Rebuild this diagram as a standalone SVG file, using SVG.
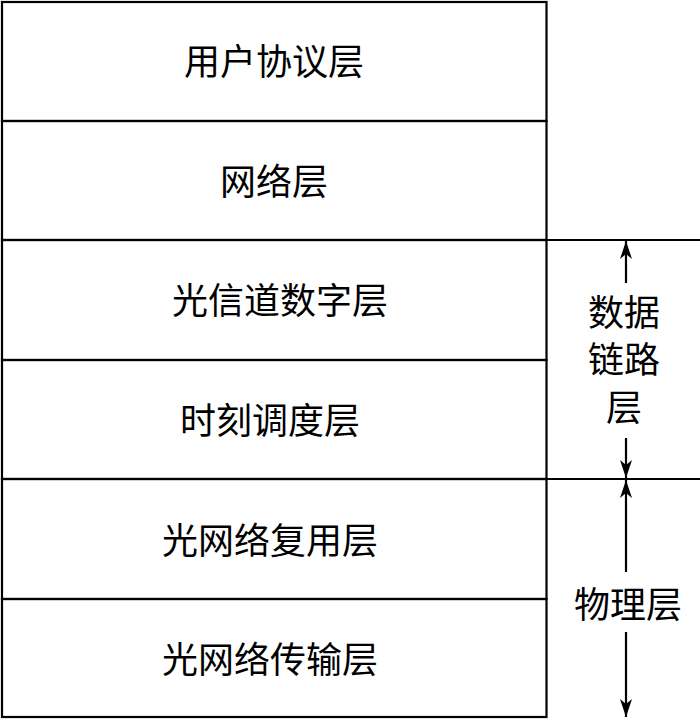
<svg xmlns="http://www.w3.org/2000/svg" width="700" height="720" viewBox="0 0 700 720">
<style>
.t{font-family:"Noto Sans CJK SC","Noto Sans CJK JP",sans-serif;font-size:36px;fill:#000;text-anchor:middle;dominant-baseline:central}
.ln{stroke:#000;stroke-width:2.2;fill:none}
</style>
<defs>
<marker id="ah" viewBox="0 0 18 12" refX="18" refY="6" markerWidth="18" markerHeight="12" markerUnits="userSpaceOnUse" orient="auto">
<path d="M0,0 L18,6 L0,12 L5,6 Z" fill="#000"/>
</marker>
</defs>
<rect width="700" height="720" fill="#fff"/>
<g id="layers">
<g id="n1"><rect class="ln" x="2" y="2" width="544.5" height="119"/><text class="t" x="274" y="59">用户协议层</text></g>
<g id="n2"><rect class="ln" x="2" y="121" width="544.5" height="119"/><text class="t" x="274" y="179">网络层</text></g>
<g id="n3"><rect class="ln" x="2" y="240" width="544.5" height="120"/><text class="t" x="280" y="298">光信道数字层</text></g>
<g id="n4"><rect class="ln" x="2" y="360" width="544.5" height="119"/><text class="t" x="270" y="418">时刻调度层</text></g>
<g id="n5"><rect class="ln" x="2" y="479" width="544.5" height="120"/><text class="t" x="270" y="538">光网络复用层</text></g>
<g id="n6"><rect class="ln" x="2" y="599" width="544.5" height="118"/><text class="t" x="270" y="657">光网络传输层</text></g>
</g>
<g id="connectors">
<line class="ln" x1="546" y1="240" x2="700" y2="240"/>
<line class="ln" x1="546" y1="479" x2="700" y2="479"/>
<line class="ln" x1="626" y1="283" x2="626" y2="241" marker-end="url(#ah)"/>
<line class="ln" x1="626" y1="438" x2="626" y2="478" marker-end="url(#ah)"/>
<line class="ln" x1="626" y1="572" x2="626" y2="480" marker-end="url(#ah)"/>
<line class="ln" x1="626" y1="632" x2="626" y2="717" marker-end="url(#ah)"/>
</g>
<g id="labels">
<text class="t" x="624" y="310">数据</text>
<text class="t" x="624" y="357">链路</text>
<text class="t" x="624" y="405">层</text>
<text class="t" x="628" y="602">物理层</text>
</g>
</svg>
